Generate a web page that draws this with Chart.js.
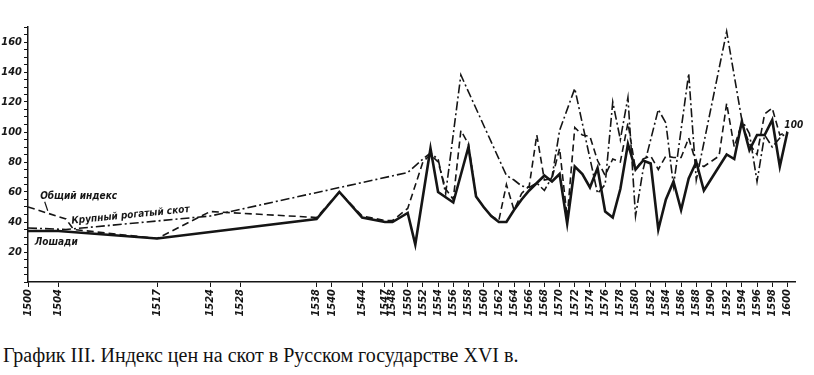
<!DOCTYPE html>
<html lang="ru">
<head>
<meta charset="utf-8">
<script src="https://cdn.jsdelivr.net/npm/chart.js@4.4.1/dist/chart.umd.min.js"></script>
<style>
  body { margin: 0; background: #fff; }
  #wrap { position: relative; width: 814px; height: 330px; }
  #caption { position: absolute; left: 3px; top: 344px; font: 20px "Liberation Serif", serif; color: #111; white-space: nowrap; }
</style>
</head>
<body>
<div id="wrap"><canvas id="chart"></canvas></div>
<div id="caption">График III. Индекс цен на скот в Русском государстве XVI в.</div>
<script>
// годы, для которых есть точки (null = у ряда нет значения, линия идёт дальше)
const years = [1500, 1504, 1505, 1506, 1517, 1524, 1538, 1541, 1544, 1547, 1548,
  1550, 1551, 1552, 1553, 1554, 1555, 1556, 1557, 1558, 1559,
  1560, 1561, 1562, 1563, 1564, 1565, 1566, 1567, 1568, 1569,
  1570, 1571, 1572, 1573, 1574, 1575, 1576, 1577, 1578, 1579,
  1580, 1581, 1582, 1583, 1584, 1585, 1586, 1587, 1588, 1589,
  1591, 1592, 1593, 1594, 1595, 1596, 1597, 1598, 1599, 1600];

const horses = [34, 34, null, null, 29, null, 42, 60, 43, 40, 40,
  46, 25, null, 89, 60, null, 53, null, 90, 57,
  50, 44, 40, 40, 48, 55, 61, 66, 71, 67,
  72, 39, 77, 72, 63, 76, 47, 43, 62, 92,
  75, 81, 79, 35, 55, 67, 48, 69, 80, 61,
  null, 85, 82, 107, 88, 98, 98, 108, 77, 100];

const general = [50, null, 42, 35, 29, 47, 43, 60, 44, 41, 41,
  49, null, 80, 85, 80, 62, 55, 101, 92, 57,
  50, 44, 41, 65, 48, 59, 64, 98, 68, 69,
  89, 43, 103, 98, 97, 81, 71, 82, 80, 106,
  75, 82, 84, 75, 84, 83, 83, 96, 79, 77,
  84, 119, 90, 106, 92, 85, 112, 116, 98, 100];

const cattle = [36, null, 35, null, null, 44, null, null, null, null, null,
  73, null, 82, 86, 82, 59, null, 138, null, null,
  null, null, null, 71, 68, 64, 63, 66, 61, 70,
  101, null, 129, null, null, 59, 65, 120, 95, 123,
  44, 75, null, 115, 106, 64, null, 139, 68, null,
  null, 167, null, 108, 99, 67, 98, 90, 96, 100];

const xTicks = [1500, 1504, 1517, 1524, 1528, 1538, 1540, 1544, 1547, 1548,
  1550, 1552, 1554, 1556, 1558, 1560, 1562, 1564, 1566, 1568, 1570, 1572, 1574,
  1576, 1578, 1580, 1582, 1584, 1586, 1588, 1590, 1592, 1594, 1596, 1598, 1600];
const yLabels = [20, 40, 60, 80, 100, 120, 140, 160];

const ink = '#151515';
const tickFont = { family: "'DejaVu Sans Condensed', 'DejaVu Sans', sans-serif", style: 'italic', weight: 'bold', size: 11 };
const toPoints = (vals) => years.map((y, i) => ({ x: y, y: vals[i] }));

// подписи рядов прямо на поле графика
const notes = {
  id: 'notes',
  afterDatasetsDraw(chart) {
    const { ctx, scales: { x, y } } = chart;
    ctx.save();
    ctx.fillStyle = ink;
    ctx.strokeStyle = ink;
    ctx.font = "italic bold 10px 'DejaVu Sans Condensed', 'DejaVu Sans', sans-serif";
    ctx.textBaseline = 'middle';
    ctx.textAlign = 'left';
    ctx.fillText('Общий индекс', x.getPixelForValue(1501.6), y.getPixelForValue(57));
    ctx.lineWidth = 1.2;
    ctx.beginPath();
    ctx.moveTo(x.getPixelForValue(1502.2), y.getPixelForValue(53.5));
    ctx.lineTo(x.getPixelForValue(1502.6), y.getPixelForValue(47.5));
    ctx.stroke();
    ctx.fillText('Лошади', x.getPixelForValue(1500.9), y.getPixelForValue(26.5));
    ctx.fillText('100', x.getPixelForValue(1599.6), y.getPixelForValue(104.5));
    ctx.save();
    ctx.translate(x.getPixelForValue(1513.5), y.getPixelForValue(44.5));
    ctx.rotate(-0.1);
    ctx.textAlign = 'center';
    ctx.fillText('Крупный рогатый скот', 0, 0);
    ctx.restore();
    ctx.restore();
  }
};

const ctx = document.getElementById('chart');
new Chart(ctx, {
  type: 'line',
  data: {
    datasets: [
      { label: 'Крупный рогатый скот', data: toPoints(cattle), borderColor: ink, borderWidth: 1.6,
        borderDash: [9, 3, 2, 3], pointRadius: 0, spanGaps: true, tension: 0 },
      { label: 'Общий индекс', data: toPoints(general), borderColor: ink, borderWidth: 1.6,
        borderDash: [7, 4], pointRadius: 0, spanGaps: true, tension: 0 },
      { label: 'Лошади', data: toPoints(horses), borderColor: ink, borderWidth: 2.6,
        pointRadius: 0, spanGaps: true, tension: 0 }
    ]
  },
  options: {
    responsive: true,
    maintainAspectRatio: false,
    animation: false,
    layout: { padding: { top: 27, right: 19, left: 0, bottom: 0 } },
    plugins: { legend: { display: false }, tooltip: { enabled: false } },
    scales: {
      x: {
        type: 'linear', min: 1500, max: 1601,
        afterBuildTicks: (s) => { s.ticks = xTicks.map(v => ({ value: v })); },
        afterFit: (s) => { s.height = 48; },
        ticks: { autoSkip: false, minRotation: 90, maxRotation: 90, padding: 2, color: ink, font: tickFont,
          callback: (v) => String(v) },
        grid: { drawOnChartArea: false, tickLength: 5, color: ink, lineWidth: 1 },
        border: { color: ink, width: 1.5 }
      },
      y: {
        min: 0, max: 170,
        afterFit: (s) => { s.width = 28; },
        ticks: { stepSize: 5, autoSkip: false, padding: 2, color: ink, font: tickFont,
          callback: (v) => yLabels.includes(v) ? String(v) : '' },
        grid: { drawOnChartArea: false, tickLength: 4, color: ink, lineWidth: 1 },
        border: { color: ink, width: 1.5 }
      }
    }
  },
  plugins: [notes]
});
</script>
</body>
</html>
